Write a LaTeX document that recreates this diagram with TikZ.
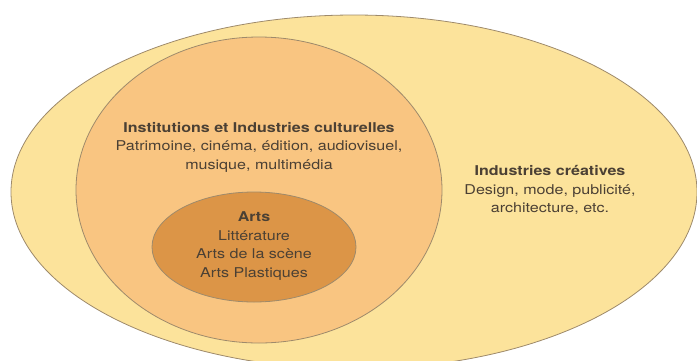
\documentclass[tikz,border=0pt]{standalone}
\usepackage{fontspec}
\setmainfont[FakeStretch=1.19]{TeX Gyre Heros}
\usetikzlibrary{shapes.geometric}
\definecolor{zoneout}{HTML}{FCE39B}
\definecolor{zonemid}{HTML}{F9C581}
\definecolor{zonein}{HTML}{DC9547}
\definecolor{zoneline}{HTML}{9E8A6B}
\definecolor{zonetext}{HTML}{4B4034}
\begin{document}
\begin{tikzpicture}[x=1pt,y=-1pt,
  zone/.style={ellipse, draw=zoneline, line width=0.8pt, inner sep=0pt},
  label/.style={align=center, text=zonetext, inner sep=0pt, font=\fontsize{13.5}{18.5}\selectfont}]
\useasboundingbox (0,0) rectangle (697,360);
\node[zone, fill=zoneout, minimum width=686pt, minimum height=354pt] (zout) at (354,192){};
\node[zone, fill=zonemid, minimum width=366pt, minimum height=306pt] (zmid) at (259,190){};
\node[zone, fill=zonein, minimum width=204pt, minimum height=110pt] (zin) at (254,247){};
\node[label] (tmid) at (259,147){\textbf{Institutions et Industries culturelles}\\Patrimoine, cinéma, édition, audiovisuel,\\musique, multimédia};
\node[label] (tin) at (254,246){\textbf{Arts}\\Littérature\\Arts de la scène\\Arts Plastiques};
\node[label] (tout) at (550,190){\textbf{Industries créatives}\\Design, mode, publicité,\\architecture, etc.};
\end{tikzpicture}
\end{document}
